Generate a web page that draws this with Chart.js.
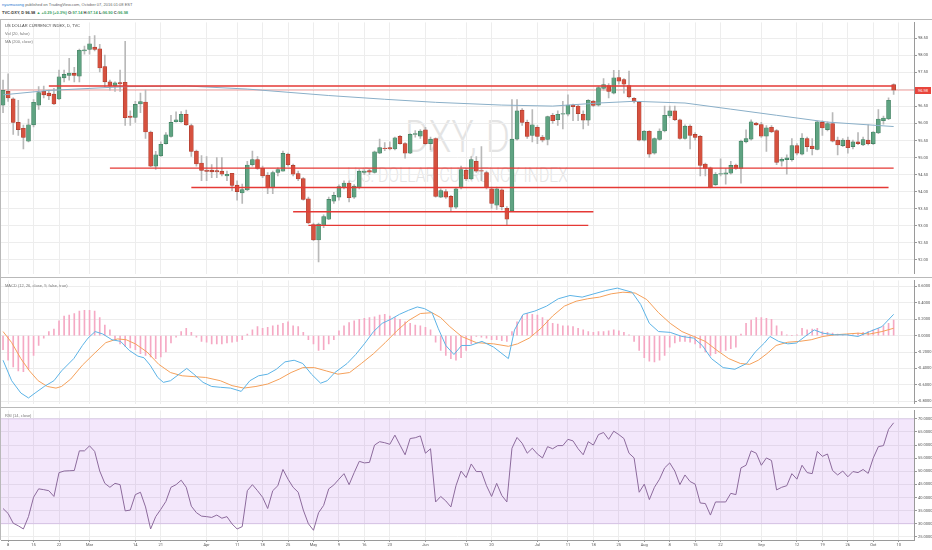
<!DOCTYPE html>
<html>
<head>
<meta charset="utf-8">
<title>TVC:DXY, D</title>
<script src="https://cdn.jsdelivr.net/npm/chart.js@4.4.1/dist/chart.umd.min.js"></script>
<style>
  html, body { margin: 0; padding: 0; background: #fff; }
  body { width: 932px; height: 550px; position: relative; overflow: hidden;
         font-family: "Liberation Sans", Arial, sans-serif; }
  .txt { position: absolute; white-space: nowrap; line-height: 1; }
  .pane { position: absolute; left: 0; width: 932px; }
  .pane canvas { position: absolute; left: 0; top: 0; }
  .wm { position: absolute; left: 0; white-space: nowrap; color: #e4e4e4; line-height: 1;
        font-family: Roboto, sans-serif; font-weight: 300; transform-origin: 0 0; }
  .rule { position: absolute; background: #b9b9b9; }
  .lbl { position: absolute; left: 5px; font-size: 4px; color: #777; white-space: nowrap; line-height: 1; }
  #lastTag { position: absolute; left: 915px; width: 16px; height: 7px; background: #e8453c;
             color: #fff; font-size: 4px; line-height: 7px; text-align: center; }
</style>
</head>
<body>

<!-- header -->
<div class="txt" style="left:2px;top:3px;font-size:4px;color:#666;">
  <span style="color:#2a7bd1">nyarmasong</span> published on TradingView.com, October 07, 2016 01:08 EST
</div>
<div class="txt" style="left:2px;top:11px;font-size:4px;color:#333;font-weight:bold;">
  TVC:DXY, D 96.98 <span style="color:#3a9f63">&#9650; +0.29 (+0.3%)</span>
  O:<span style="color:#3a9f63">97.14</span> H:<span style="color:#3a9f63">97.14</span>
  L:<span style="color:#3a9f63">96.90</span> C:<span style="color:#3a9f63">96.98</span>
</div>

<!-- price pane -->
<div class="pane" id="mainPane" style="top:19px;height:258px;">
  <div class="wm" id="wm1" style="font-size:45px;top:95px;">DXY, D</div>
  <div class="wm" id="wm2" style="font-size:20px;top:146px;">U.S. DOLLAR CURRENCY INDEX</div>
  <canvas id="mainChart" width="932" height="258"></canvas>
  <div class="lbl" style="top:5px;color:#444;">US DOLLAR CURRENCY INDEX, D, TVC</div>
  <div class="lbl" style="top:13px;">Vol (20, false)</div>
  <div class="lbl" style="top:21px;">MA (200, close)</div>
</div>

<!-- MACD pane -->
<div class="pane" id="macdPane" style="top:277px;height:130px;">
  <canvas id="macdChart" width="932" height="130"></canvas>
  <div class="lbl" style="top:7px;">MACD (12, 26, close, 9, false, true)</div>
</div>

<!-- RSI pane -->
<div class="pane" id="rsiPane" style="top:407px;height:143px;">
  <canvas id="rsiChart" width="932" height="143"></canvas>
  <div class="lbl" style="top:7px;">RSI (14, close)</div>
</div>

<div class="rule" style="left:0;top:19px;width:932px;height:1px;"></div>
<div class="rule" style="left:0;top:277px;width:932px;height:1px;"></div>
<div class="rule" style="left:0;top:407px;width:932px;height:1px;"></div>
<div class="rule" style="left:0;top:19px;width:1px;height:521px;"></div>
<div id="lastTag">96.98</div>

<script>
// ============================================
// DATA (daily candles, Feb 5 – Oct 7 2016, index 0 = Feb 5)
// ============================================
const opens = [
  96.54,96.94,96.72,96.03,95.86,95.48,95.96,96.54,96.94,96.89,
  96.86,96.72,97.34,97.41,97.47,97.39,98.13,98.17,98.24,98.19,
  97.67,97.22,97.10,97.20,97.21,96.22,96.18,96.57,96.63,95.75,
  94.75,95.05,95.41,95.62,96.05,96.05,96.27,95.94,95.19,94.84,
  94.63,94.63,94.62,94.60,94.46,94.54,94.19,93.96,94.05,94.79,
  94.94,94.68,94.48,94.11,94.56,94.60,95.10,94.77,94.53,94.38,
  93.79,93.03,92.58,93.00,93.19,93.72,93.84,94.13,94.25,93.84,
  94.13,94.56,94.62,94.56,95.13,95.28,95.29,95.25,95.62,95.41,
  95.13,95.68,95.63,95.81,95.41,95.56,93.84,94.00,93.86,93.54,
  94.11,94.63,94.37,94.89,94.62,94.56,94.08,93.60,94.05,93.51,
  93.44,95.54,96.39,96.03,95.65,95.89,95.60,95.53,96.24,96.11,
  96.27,96.27,96.54,96.51,96.27,96.10,96.66,96.54,97.03,97.11,
  96.89,97.35,97.29,97.11,96.74,96.62,95.51,95.77,95.13,95.53,
  95.78,96.22,96.37,96.11,95.56,95.92,95.68,95.62,94.81,94.70,
  94.20,94.51,94.51,94.54,94.78,94.68,95.46,95.54,96.01,95.97,
  95.63,95.89,95.79,94.89,94.94,94.94,95.35,95.10,95.56,95.34,
  95.24,96.03,95.82,96.00,95.51,95.35,95.51,95.32,95.46,95.37,
  95.51,95.41,95.72,96.08,96.13,97.14
];
const highs = [
  97.27,97.46,96.75,96.68,95.95,96.13,96.70,97.08,97.10,96.98,
  97.03,97.57,97.57,97.91,97.65,98.18,98.27,98.56,98.58,98.32,
  98.01,97.27,97.22,97.57,98.41,96.37,96.65,96.89,96.98,95.78,
  95.18,95.46,95.73,96.24,96.34,96.35,96.39,95.98,95.22,95.06,
  95.03,94.79,95.00,95.00,94.60,94.54,94.32,94.22,94.89,95.19,
  95.03,94.75,94.56,94.60,94.70,95.19,95.13,94.81,94.60,94.41,
  93.84,93.08,93.08,93.32,93.84,93.98,94.20,94.32,94.32,94.21,
  94.65,94.65,94.66,95.19,95.54,95.44,95.46,95.60,95.65,95.44,
  95.70,95.79,95.82,95.89,95.60,95.58,94.08,94.06,93.89,94.10,
  94.75,94.68,95.03,95.03,95.32,94.60,94.13,94.13,94.08,93.56,
  96.70,96.70,96.44,96.10,96.41,95.94,95.65,96.22,96.30,96.37,
  96.65,96.84,96.57,96.54,96.37,96.70,96.68,97.08,97.32,97.17,
  97.56,97.56,97.32,97.54,96.76,96.65,95.80,95.79,95.58,95.84,
  96.51,96.51,96.51,96.13,95.96,95.96,95.73,95.65,94.84,94.72,
  94.56,94.96,94.68,94.89,94.81,95.51,95.81,96.11,96.03,96.03,
  95.94,95.94,95.82,95.00,95.08,95.56,95.41,95.70,95.60,95.56,
  96.07,96.08,96.05,96.32,95.60,95.56,95.60,95.51,95.73,95.60,
  95.96,95.76,96.41,96.22,96.75,97.16
];
const lows = [
  96.32,96.65,95.68,95.65,95.25,95.46,95.90,96.41,96.75,96.70,
  96.55,96.70,97.22,97.27,97.22,97.22,98.03,98.03,98.13,97.51,
  97.08,96.98,96.94,96.94,95.94,95.94,96.03,96.32,95.56,94.73,
  94.65,95.03,95.39,95.60,96.04,96.03,95.94,95.03,94.75,94.32,
  94.32,94.41,94.41,94.46,94.32,94.03,93.75,93.65,94.03,94.75,
  94.65,94.41,93.94,93.94,94.46,94.60,94.75,94.46,94.32,93.75,
  93.06,92.56,91.94,92.94,93.18,93.65,93.75,94.08,93.70,93.80,
  94.08,94.50,94.50,94.54,95.11,95.20,95.22,95.22,95.39,94.98,
  95.11,95.60,95.56,95.37,95.22,93.84,93.82,93.80,93.41,93.50,
  94.08,94.32,94.34,94.56,94.32,94.08,93.51,93.48,93.46,93.03,
  93.41,95.51,95.94,95.56,95.46,95.41,95.46,95.37,96.00,95.94,
  95.84,96.22,96.08,96.08,95.84,95.94,96.49,96.51,96.98,96.75,
  96.87,97.15,96.89,96.75,96.60,95.49,95.49,95.00,95.10,95.51,
  95.75,96.17,96.08,95.54,95.54,95.25,95.51,94.46,94.46,94.11,
  94.18,94.46,94.22,94.51,94.65,94.25,95.43,95.51,95.94,95.59,
  95.18,95.73,94.79,94.75,94.51,94.89,95.08,95.08,95.18,95.08,
  95.22,95.65,95.78,95.46,95.08,95.32,95.13,95.25,95.38,95.35,
  95.37,95.38,95.70,95.98,96.11,96.85
];
const closes = [
  96.97,96.75,96.03,95.82,95.59,95.96,96.62,96.91,96.84,96.81,
  96.57,97.37,97.44,97.48,97.41,98.15,98.16,98.34,98.17,97.63,
  97.22,97.10,97.19,97.16,96.17,96.18,96.56,96.64,95.75,94.75,
  95.08,95.39,95.67,96.03,96.11,96.27,95.96,95.18,94.81,94.62,
  94.59,94.58,94.58,94.51,94.51,94.18,94.00,94.06,94.78,94.94,
  94.68,94.46,94.11,94.56,94.65,95.12,94.79,94.51,94.37,93.77,
  93.08,92.58,93.05,93.27,93.77,93.89,94.15,94.25,93.82,94.16,
  94.60,94.60,94.57,95.17,95.29,95.26,95.25,95.58,95.41,95.13,
  95.68,95.70,95.78,95.41,95.54,93.86,94.03,93.84,93.54,94.08,
  94.65,94.37,94.94,94.60,94.60,94.13,93.65,94.08,93.56,93.19,
  95.54,96.37,96.03,95.62,95.96,95.62,95.51,96.20,96.08,96.27,
  96.29,96.54,96.49,96.29,96.10,96.68,96.53,97.05,97.14,96.94,
  97.34,97.24,97.15,96.78,96.65,95.51,95.77,95.10,95.56,95.78,
  96.24,96.37,96.11,95.56,95.92,95.65,95.59,94.77,94.68,94.13,
  94.51,94.53,94.55,94.77,94.68,95.48,95.56,96.05,95.96,95.63,
  95.87,95.75,94.86,94.95,94.99,95.35,95.13,95.57,95.32,95.26,
  96.05,95.87,96.00,95.48,95.37,95.51,95.29,95.46,95.41,95.53,
  95.41,95.75,96.13,96.16,96.68,96.98
];

// MA(200): [day index, value]
const ma200 = [
  [0,96.84],[9,96.97],[24,97.08],[36,97.10],[48,97.01],[64,96.82],[75,96.71],
  [85,96.62],[98,96.54],[108,96.51],[117,96.60],[124,96.65],[134,96.60],
  [143,96.42],[152,96.24],[162,96.04],[175,95.91]
];

// hand drawn support / resistance lines
const levelPrice = [97.10, 94.69, 94.12, 93.41, 93.01];
const levelFrom  = [9, 21, 37, 57, 60];
const levelTo    = [175, 175, 174, 116, 115];

// MACD (12, 26, 9): [day index, value]
const macdLine = [
  [0,-0.30],[1.7,-0.55],[3.5,-0.70],[5,-0.76],[6.3,-0.70],[8.1,-0.62],[10,-0.55],
  [11.5,-0.43],[13.9,-0.28],[15.6,-0.12],[16.7,-0.03],[18.1,0.05],[19.6,0.02],
  [21.4,-0.05],[23.1,-0.07],[24.8,-0.18],[26.5,-0.25],[27.7,-0.27],[28.9,-0.36],
  [30.4,-0.51],[31.5,-0.57],[32.9,-0.55],[34.6,-0.47],[36.1,-0.40],[37.5,-0.47],
  [39.3,-0.57],[41,-0.62],[42.7,-0.63],[44.7,-0.64],[46.8,-0.68],[48.5,-0.55],
  [50.2,-0.49],[52,-0.47],[53.7,-0.41],[55.4,-0.32],[57.2,-0.30],[58.9,-0.34],
  [60.6,-0.47],[62.4,-0.58],[63.7,-0.55],[65.2,-0.45],[67.6,-0.34],[69.3,-0.23],
  [71,-0.10],[72.8,0.05],[74.5,0.15],[76.2,0.20],[77.9,0.26],[79.7,0.31],
  [81.4,0.35],[82.8,0.33],[84.3,0.28],[85.5,0.09],[87,-0.12],[88.6,-0.23],
  [90.1,-0.12],[91.8,-0.12],[94.1,-0.07],[96.4,-0.14],[99.3,-0.28],[100.5,0.07],
  [102.2,0.26],[104.5,0.30],[106.8,0.36],[109.1,0.45],[111.4,0.49],[113.8,0.47],
  [116.1,0.51],[118.4,0.55],[120.7,0.58],[123.6,0.53],[125.3,0.38],[127,0.15],
  [128.8,0.05],[131.1,0.04],[133.4,-0.01],[135.7,-0.03],[137.4,-0.12],[139.2,-0.28],
  [141.5,-0.39],[143.8,-0.41],[146.1,-0.34],[147.8,-0.20],[149.6,-0.09],[150.7,-0.01],
  [152.4,-0.07],[154.2,-0.10],[155.9,-0.09],[157.6,-0.01],[159.4,0.07],[161.1,0.03],
  [163.4,0.01],[165.7,0.01],[168,-0.01],[170.3,0.05],[172.7,0.11],[175,0.26]
];
const signalLine = [
  [0,0.05],[1.7,-0.085],[3.5,-0.28],[5.2,-0.43],[6.9,-0.55],[8.7,-0.62],[10.4,-0.64],
  [11.5,-0.62],[13.3,-0.53],[15.6,-0.36],[17.9,-0.22],[20.2,-0.085],[22.5,-0.04],
  [24.2,-0.05],[26,-0.10],[28.3,-0.20],[30.6,-0.35],[32.9,-0.45],[35.2,-0.49],
  [37.5,-0.50],[39.8,-0.51],[42.7,-0.55],[45,-0.61],[47.3,-0.64],[49.7,-0.62],
  [52,-0.59],[54.3,-0.53],[56.6,-0.45],[58.9,-0.39],[61.2,-0.39],[63.5,-0.43],
  [65.8,-0.47],[68.1,-0.45],[70.4,-0.34],[72.8,-0.22],[75.1,-0.085],[77.4,0.06],
  [79.7,0.185],[82,0.27],[84.3,0.28],[86,0.22],[87.8,0.11],[90.1,-0.01],[93,-0.085],
  [96.4,-0.10],[99.3,-0.13],[101.1,-0.10],[103.4,-0.03],[105.7,0.09],[108,0.24],
  [110.3,0.36],[112.6,0.42],[114.9,0.45],[117.2,0.47],[119.5,0.51],[121.8,0.53],
  [124.2,0.52],[126.5,0.44],[128.8,0.28],[131.1,0.15],[133.4,0.05],[135.7,-0.01],
  [138,-0.07],[140.3,-0.18],[142.6,-0.28],[144.9,-0.34],[146.7,-0.35],[148.4,-0.30],
  [150.1,-0.22],[151.9,-0.12],[154.2,-0.08],[156.5,-0.07],[158.8,-0.05],[161.1,-0.01],
  [163.4,0.01],[165.7,0.02],[168,0.03],[170.3,0.02],[172.7,0.05],[175,0.09]
];
const macdHist = [
  -0.17,-0.30,-0.38,-0.43,-0.44,-0.41,-0.24,-0.12,-0.03,0.05,
  0.08,0.18,0.24,0.25,0.27,0.30,0.31,0.31,0.30,0.22,
  0.13,0.07,-0.05,-0.10,-0.13,-0.15,-0.17,-0.22,-0.24,-0.26,
  -0.28,-0.26,-0.20,-0.09,-0.02,0.05,0.09,0.04,-0.02,-0.07,
  -0.08,-0.10,-0.10,-0.10,-0.09,-0.08,-0.07,-0.05,0.02,0.07,
  0.11,0.09,0.10,0.12,0.13,0.15,0.17,0.12,0.11,0.04,
  -0.05,-0.10,-0.18,-0.17,-0.10,-0.05,0.06,0.12,0.16,0.18,
  0.20,0.21,0.22,0.23,0.25,0.26,0.24,0.22,0.20,0.17,
  0.15,0.13,0.12,0.10,0.07,-0.08,-0.18,-0.24,-0.28,-0.30,
  -0.27,-0.18,-0.10,-0.01,-0.02,-0.03,-0.05,-0.05,-0.06,-0.07,
  0.05,0.17,0.24,0.27,0.26,0.25,0.22,0.19,0.15,0.14,
  0.12,0.12,0.11,0.09,0.07,0.05,0.04,0.05,0.05,0.06,
  0.07,0.06,0.04,0.01,-0.07,-0.18,-0.27,-0.31,-0.32,-0.30,
  -0.24,-0.14,-0.09,-0.07,-0.07,-0.08,-0.10,-0.15,-0.20,-0.24,
  -0.22,-0.20,-0.18,-0.16,-0.14,0.02,0.15,0.19,0.22,0.22,
  0.21,0.20,0.12,0.05,0.01,0.00,0.01,0.09,0.07,0.08,
  0.09,0.05,0.04,0.03,0.02,0.01,0.02,0.01,0.03,0.04,
  0.05,0.07,0.09,0.12,0.15,0.19
];

// RSI (14)
const rsi = [
  35.8,33.9,30.2,29.2,28.0,32.7,40.1,43.3,43.0,42.6,
  40.4,49.5,50.1,50.2,50.3,57.8,57.8,59.7,57.6,50.1,
  45.4,43.9,45.4,44.9,34.9,35.2,41.1,42.0,36.4,28.0,
  32.7,35.5,38.5,43.9,44.9,46.6,43.9,36.7,34.2,32.9,
  32.7,32.4,33.3,32.1,32.7,29.9,28.0,28.9,42.6,44.9,
  42.6,40.1,35.8,42.6,44.5,50.7,47.0,43.9,42.0,35.2,
  30.0,27.5,34.2,37.0,43.3,44.8,47.0,49.1,44.9,49.5,
  53.8,53.2,53.4,60.0,61.3,60.9,60.3,63.8,60.0,56.3,
  62.5,62.8,63.5,56.9,58.6,38.3,40.4,38.7,36.4,44.5,
  50.1,47.6,52.8,49.9,49.9,44.5,40.4,45.4,40.8,38.3,
  58.8,62.9,60.7,56.9,58.8,56.6,55.1,59.4,58.6,59.8,
  59.8,62.2,61.6,58.6,56.3,61.3,60.0,64.0,64.8,62.2,
  65.3,64.0,62.5,56.9,55.1,42.0,45.1,39.2,43.9,47.0,
  51.3,53.2,50.1,44.9,48.6,46.1,45.1,37.9,37.7,33.3,
  38.3,38.3,38.3,41.6,41.1,51.3,52.3,57.8,56.9,52.3,
  55.1,54.1,42.9,43.9,44.5,49.1,47.0,52.3,49.5,49.1,
  57.6,55.7,56.6,50.3,48.6,50.1,47.9,49.9,49.5,50.7,
  49.2,55.1,59.4,59.8,66.0,68.5
];
const rsiBand = [30, 70];

// axis ticks
const xTickIdx  = [1,6,11,17,26,31,40,46,51,56,61,66,71,76,83,91,96,105,111,116,121,126,131,136,141,149,156,161,166,171,176];
const xTickText = ['8','15','22','Mar','14','21','Apr','11','18','25','May','9','16','23','Jun','13','20','Jul','11','18','25','Aug','8','15','22','Sep','12','19','26','Oct','10'];
const priceTicks = [98.5,98,97.5,97,96.5,96,95.5,95,94.5,94,93.5,93,92.5,92];
const macdTicks  = [0.6,0.4,0.2,0,-0.2,-0.4,-0.6,-0.8];
const rsiTicks   = [70,65,60,55,50,45,40,35,30,25];

// ============================================
// SHARED STYLE
// ============================================
const FONT = 'Roboto, "Liberation Sans", sans-serif';
const GRID = '#ededed';
const AXIS = '#9a9a9a';
const X_MIN = -0.4, X_MAX = 179;
const lastClose = closes[closes.length - 1];

function xAxis(showLabels) {
  return {
    type: 'linear', min: X_MIN, max: X_MAX,
    offset: false,   // bar charts default to an offset scale; keep the time axis exact
    afterBuildTicks: s => { s.ticks = xTickIdx.map(v => ({ value: v })); },
    grid: { color: GRID, offset: false, drawTicks: showLabels, tickLength: 2, tickColor: AXIS },
    border: { display: showLabels, color: AXIS },
    ticks: {
      display: showLabels, autoSkip: false, maxRotation: 0, padding: 1,
      font: { family: FONT, size: 4 }, color: '#555',
      callback: (v, k) => xTickText[k]
    },
    afterFit: s => { s.height = showLabels ? 10 : 0; }
  };
}

function yAxis(min, max, ticks, digits) {
  return {
    position: 'right', min, max,
    afterBuildTicks: s => { s.ticks = ticks.map(v => ({ value: v })); },
    grid: { color: GRID, drawTicks: true, tickLength: 3, tickColor: AXIS },
    border: { display: true, color: AXIS },
    ticks: {
      padding: 1, font: { family: FONT, size: 4 }, color: '#555',
      callback: v => v.toFixed(digits)
    },
    afterFit: s => { s.width = 18; }
  };
}

const base = {
  responsive: false, animation: false, events: [],
  layout: { padding: { left: 1, right: 0, top: 0, bottom: 0 } },
  plugins: { legend: { display: false }, tooltip: { enabled: false } }
};

const flatLine = (color, width, order) => ({
  type: 'line', borderColor: color, borderWidth: width, pointRadius: 0,
  tension: 0, fill: false, order
});

// ============================================
// PRICE PANE
// ============================================
const isUp = i => closes[i] >= opens[i];

const levelSets = levelPrice.map((p, k) => ({
  ...flatLine('#e53935', 1.4, 0),
  data: [{ x: levelFrom[k], y: p }, { x: levelTo[k], y: p }]
}));

// move the red last-price tag onto the scale value
const lastTagPlugin = {
  id: 'lastTag',
  afterRender(chart) {
    const y = chart.scales.y.getPixelForValue(lastClose);
    document.getElementById('lastTag').style.top = (19 + y - 3.5) + 'px';
  }
};

new Chart(document.getElementById('mainChart'), {
  type: 'bar',
  data: {
    datasets: [
      ...levelSets,
      { ...flatLine('#8aafc8', 1, 1), data: ma200.map(p => ({ x: p[0], y: p[1] })) },
      {
        type: 'bar', order: 2, grouped: false, barThickness: 4,
        data: opens.map((o, i) => ({ x: i, y: [o, closes[i]] })),
        backgroundColor: c => isUp(c.dataIndex) ? '#5fa382' : '#d6513f',
        borderColor: c => isUp(c.dataIndex) ? '#3f7c5e' : '#a83c2e',
        borderWidth: 0.6, borderSkipped: false
      },
      {
        type: 'bar', order: 3, grouped: false, barThickness: 1,
        data: lows.map((l, i) => ({ x: i, y: [l, highs[i]] })),
        backgroundColor: '#b9b9b9'
      },
      { ...flatLine('rgba(229,57,53,0.45)', 1, 4),
        data: [{ x: X_MIN, y: lastClose }, { x: X_MAX, y: lastClose }] }
    ]
  },
  options: {
    ...base,
    scales: { x: xAxis(false), y: yAxis(91.594, 98.966, priceTicks, 2) }
  },
  plugins: [lastTagPlugin]
});

// ============================================
// MACD PANE
// ============================================
new Chart(document.getElementById('macdChart'), {
  type: 'bar',
  data: {
    datasets: [
      { ...flatLine('#5cb3e6', 1, 0), data: macdLine.map(p => ({ x: p[0], y: p[1] })) },
      { ...flatLine('#f5a05a', 1, 1), data: signalLine.map(p => ({ x: p[0], y: p[1] })) },
      {
        type: 'bar', order: 2, grouped: false, barThickness: 1,
        data: macdHist.map((v, i) => ({ x: i, y: v })),
        backgroundColor: '#f5a9c4'
      }
    ]
  },
  options: {
    ...base,
    scales: { x: xAxis(false), y: yAxis(-0.829, 0.674, macdTicks, 4) }
  }
});

// ============================================
// RSI PANE
// ============================================
new Chart(document.getElementById('rsiChart'), {
  type: 'line',
  data: {
    datasets: [
      { ...flatLine('#8c6a9c', 1, 0), data: rsi.map((v, i) => ({ x: i, y: v })) },
      { ...flatLine('rgba(170,120,210,0.25)', 1, 1), fill: '+1',
        backgroundColor: 'rgba(150,40,220,0.11)',
        data: [{ x: X_MIN, y: rsiBand[1] }, { x: X_MAX, y: rsiBand[1] }] },
      { ...flatLine('rgba(170,120,210,0.25)', 1, 2),
        data: [{ x: X_MIN, y: rsiBand[0] }, { x: X_MAX, y: rsiBand[0] }] }
    ]
  },
  options: {
    ...base,
    scales: { x: xAxis(true), y: yAxis(23.79, 73.23, rsiTicks, 4) }
  }
});

// ============================================
// WATERMARK: squeeze to the narrow face of the original, centred on the pane
// ============================================
[['wm1', 105], ['wm2', 221]].forEach(([id, target]) => {
  const el = document.getElementById(id);
  const k = target / el.offsetWidth;
  el.style.left = (457 - target / 2) + 'px';
  el.style.transform = 'scaleX(' + k + ')';
});
</script>
</body>
</html>
